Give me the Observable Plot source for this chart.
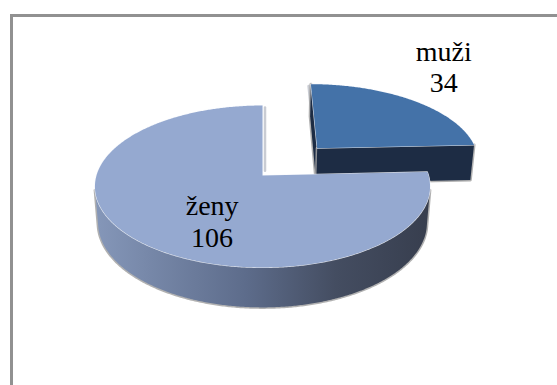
<!DOCTYPE html>
<html>
<head>
<meta charset="utf-8">
<script src="https://cdn.jsdelivr.net/npm/d3@7"></script>
<script src="https://cdn.jsdelivr.net/npm/@observablehq/plot@0.6"></script>
<style>
  body { margin: 0; background: #fff; font-family: "Liberation Serif", serif; font-size: 28px; }
  #chart { position: relative; width: 557px; height: 385px; overflow: hidden; background: #fff; }
  #chart .area { position: absolute; left: 10px; top: 14px; width: 620px; height: 440px;
    border-left: 3px solid #919191; border-top: 3px solid #919191; color: #fff; }
  #chart svg { position: absolute; left: 0; top: 0; }
  #chart svg text { font-family: "Liberation Serif", "Times New Roman", serif; }
</style>
</head>
<body>
<div id="chart"><div class="area">&nbsp;</div></div>
<script>
// Respondents by sex
const categories = ["muži", "ženy"];
const counts = [34, 106];

// ---- layout of the 3D pie -------------------------------------------------
const W = 557, H = 385;
const view = { cx: 262, cy: 175, k: 1074, D: 6.47, tilt: 28.6 * Math.PI / 180 };
const thickness = 0.254;                 // slab height, in pie radii
const explode = [0.5, 0];                // radial pull-out of each slice
const topColors = ["#4472a8", "#95a9d0"];
const cutColors = ["#1d2c44", "#4a5670"];
const wallFills = ["#1d2c44", "url(#wallShade)"];
const labelPolar = [[36.9, 1.66], [208, 0.6]]; // label anchor: angle (deg), radius

const sinT = Math.sin(view.tilt), cosT = Math.cos(view.tilt);
const cam = [0, -view.D * cosT, view.D * sinT];

// perspective projection of a world point [X right, Y away, Z up]
function project([X, Y, Z]) {
  const d = view.D + Y * cosT - Z * sinT;
  return [view.cx + view.k * X / d, view.cy - view.k * (Y * sinT + Z * cosT) / d];
}
const facing = (n, p) =>
  n[0] * (cam[0] - p[0]) + n[1] * (cam[1] - p[1]) + n[2] * (cam[2] - p[2]) > 0;

const arcs = d3.pie().sort(null)(counts);
const slices = arcs.map((a, i) => {
  const mid = (a.startAngle + a.endAngle) / 2;
  return {
    i, a0: a.startAngle, a1: a.endAngle, mid,
    off: [explode[i] * Math.sin(mid), explode[i] * Math.cos(mid)]
  };
});
const world = (sl, a, r, z) =>
  [sl.off[0] + r * Math.sin(a), sl.off[1] + r * Math.cos(a), z];
const sample = (a0, a1) => {
  const n = Math.max(2, Math.ceil((a1 - a0) / (0.5 * Math.PI / 180)));
  return d3.range(n + 1).map(j => a0 + (a1 - a0) * j / n);
};
const rows = pts => pts.map(p => { const [x, y] = project(p); return { x, y }; });

// faces, painted back to front
const faces = [];
const shades = [];   // soft shading along the 12 o'clock cut edges
const order = slices.slice().sort((a, b) =>
  (b.off[1] + 0.5 * Math.cos(b.mid)) - (a.off[1] + 0.5 * Math.cos(a.mid)));
let wallExtent = [0, W];
for (const sl of order) {
  const h = thickness;
  // outer wall: only the part turned toward the camera
  const vis = sample(sl.a0, sl.a1).filter(a =>
    facing([Math.sin(a), Math.cos(a), 0], world(sl, a, 1, -h / 2)));
  if (vis.length > 1) {
    const pts = [...vis.map(a => world(sl, a, 1, 0)),
                 ...vis.slice().reverse().map(a => world(sl, a, 1, -h))];
    const r = rows(pts);
    if (sl.i === 1) wallExtent = d3.extent(r, d => d.x);
    faces.push({ rows: r, fill: wallFills[sl.i], stroke: "#a3a3a3", sw: 3 });
  }
  // radial cut faces
  for (const [a, sign] of [[sl.a0, -1], [sl.a1, 1]]) {
    const n = sign > 0 ? [Math.cos(a), -Math.sin(a), 0] : [-Math.cos(a), Math.sin(a), 0];
    if (facing(n, world(sl, a, 0.5, -h / 2))) {
      const pts = [world(sl, a, 0, 0), world(sl, a, 1, 0), world(sl, a, 1, -h), world(sl, a, 0, -h)];
      faces.push({ rows: rows(pts), fill: cutColors[sl.i], stroke: "#a3a3a3", sw: 3 });
    }
  }
  // top face
  const top = [world(sl, 0, 0, 0), ...sample(sl.a0, sl.a1).map(a => world(sl, a, 1, 0))];
  faces.push({ rows: rows(top), fill: topColors[sl.i], stroke: "#f4f7fc", sw: 1.2 });
}
// edges lying at 12 o'clock (angle 0 or 2π) get a faint shading beside them
for (const sl of slices) {
  const a = sl.a0 === 0 ? 0 : (sl.a1 >= 2 * Math.PI - 1e-9 ? 2 * Math.PI : null);
  if (a === null) continue;
  shades.push({
    rows: rows([world(sl, a, 0.06, 0), world(sl, a, 0.97, 0)]),
    dx: sl.a0 === 0 ? -2.5 : 2.5
  });
}

const labels = slices.map(sl => {
  const [ang, r] = labelPolar[sl.i];
  const [x, y] = project(world(sl, ang * Math.PI / 180, r, 0));
  return { x, y, text: `${categories[sl.i]}\n${counts[sl.i]}` };
});

const plot = Plot.plot({
  width: W, height: H, margin: 0,
  style: { background: "transparent", overflow: "visible" },
  x: { domain: [0, W], range: [0, W], axis: null },
  y: { domain: [0, H], range: [0, H], axis: null },
  marks: [
    ...shades.map(s => Plot.line(s.rows, {
      x: "x", y: "y", dx: s.dx, stroke: "#9ca3ae", strokeWidth: 2.5, strokeOpacity: 0.55
    })),
    ...faces.map(f => Plot.line(f.rows, {
      x: "x", y: "y", curve: "linear-closed",
      fill: f.fill, stroke: f.stroke, strokeWidth: f.sw,
      strokeOpacity: 0.85, paintOrder: "stroke", strokeLinejoin: "round"
    })),
    Plot.text(labels, {
      x: "x", y: "y", text: "text", lineAnchor: "middle", lineHeight: 1.12,
      fontFamily: "Liberation Serif", fontSize: 28, fill: "#000"
    })
  ]
});

// horizontal shading of the slab wall
const grad = d3.select(plot).insert("defs", ":first-child")
  .append("linearGradient").attr("id", "wallShade")
  .attr("gradientUnits", "userSpaceOnUse")
  .attr("x1", wallExtent[0]).attr("x2", wallExtent[1]).attr("y1", 0).attr("y2", 0);
[[0, "#8597b9"], [0.45, "#5d6c8b"], [0.72, "#444d61"], [1, "#373e4e"]]
  .forEach(([o, c]) => grad.append("stop").attr("offset", o).attr("stop-color", c));

document.getElementById("chart").appendChild(plot);
</script>
</body>
</html>
